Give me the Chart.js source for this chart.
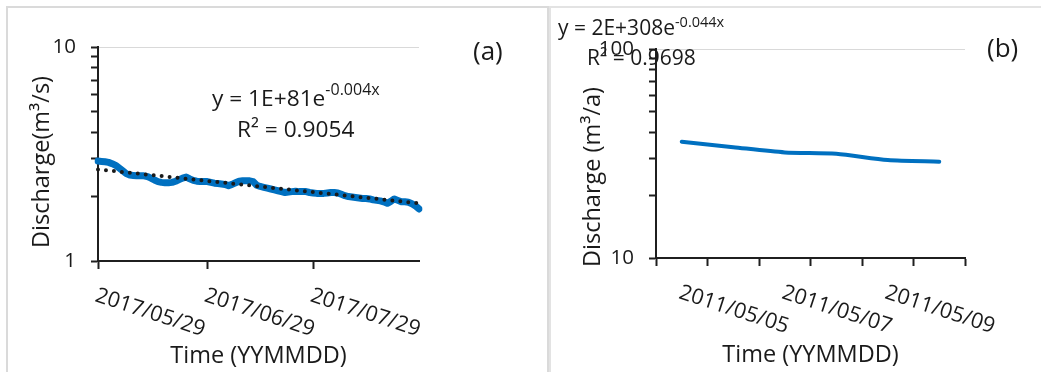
<!DOCTYPE html>
<html>
<head>
<meta charset="utf-8">
<script src="https://cdn.jsdelivr.net/npm/chart.js@4.4.1/dist/chart.umd.min.js"></script>
<style>
  html, body { margin: 0; padding: 0; background: #fff; }
  body { width: 1041px; height: 372px; position: relative; overflow: hidden; }
  .frame { position: absolute; box-sizing: border-box; border-style: solid; border-color: #dadada; }
  canvas { position: absolute; top: 0; }
</style>
</head>
<body>
<div class="frame" style="left:6px;top:6px;width:543px;height:380px;border-width:2px 2px 0 2px;"></div>
<div class="frame" style="left:549px;top:6px;width:500px;height:380px;border-width:2px 0 0 2px;border-color:#e3e3e3;"></div>
<canvas id="chartA" width="548" height="372" style="left:0"></canvas>
<canvas id="chartB" width="492" height="372" style="left:549px"></canvas>
<script>
// ---- panel (a): daily discharge, 2017/05/29 .. 2017/08/28
const startA = [2017, 5, 29];
const dischargeA = [
  2.93, 2.92, 2.91, 2.89, 2.85, 2.80, 2.72, 2.64, 2.56, 2.52,
  2.51, 2.50, 2.50, 2.50, 2.48, 2.44, 2.39, 2.35, 2.33, 2.32,
  2.32, 2.33, 2.36, 2.40, 2.44, 2.47, 2.42, 2.38, 2.36, 2.35,
  2.35, 2.35, 2.33, 2.31, 2.30, 2.29, 2.28, 2.25, 2.28, 2.32,
  2.36, 2.37, 2.37, 2.37, 2.35, 2.26, 2.23, 2.21, 2.19, 2.17,
  2.15, 2.13, 2.11, 2.09, 2.10, 2.11, 2.12, 2.11, 2.11, 2.11,
  2.09, 2.08, 2.07, 2.07, 2.07, 2.08, 2.09, 2.09, 2.08, 2.05,
  2.02, 2.00, 1.99, 1.98, 1.97, 1.96, 1.96, 1.95, 1.93, 1.92,
  1.91, 1.89, 1.86, 1.90, 1.95, 1.92, 1.89, 1.89, 1.88, 1.85,
  1.81, 1.75
];
const trendEndsA = [2.68, 1.86];   // exponential trendline, first and last day
const tickLabelsA = ['2017/05/29', '2017/06/29', '2017/07/29'];
const yTickValuesA = [1, 2, 3, 4, 5, 6, 7, 8, 9, 10];

// ---- panel (b)
const datesB = ['2011/05/05', '2011/05/06', '2011/05/07', '2011/05/08', '2011/05/09', '2011/05/10'];
const dischargeB = [36.0, 33.9, 32.0, 31.5, 29.4, 28.9];
const tickLabelsB = ['2011/05/05', '2011/05/07', '2011/05/09'];
const yTickValuesB = [10, 20, 30, 40, 50, 60, 70, 80, 90, 100];

const BLUE = '#0070c0';
const AXIS = '#1f1f1f';
const GRID = '#d9d9d9';
const TEXT = '#1a1a1a';
const FONT = '"Open Sans", sans-serif';

// day labels for panel (a)
const daysA = [];
for (let i = 0; i < dischargeA.length; i++) {
  const d = new Date(Date.UTC(startA[0], startA[1] - 1, startA[2] + i));
  daysA.push(d.getUTCFullYear() + '/' + String(d.getUTCMonth() + 1).padStart(2, '0') + '/' + String(d.getUTCDate()).padStart(2, '0'));
}
const trendA = dischargeA.map(() => null);
trendA[0] = trendEndsA[0];
trendA[trendA.length - 1] = trendEndsA[1];

// draws rotated date labels, axis titles, equation and panel letter
const panelText = {
  id: 'panelText',
  afterDraw(chart, args, o) {
    const { ctx, chartArea: ca } = chart;
    const xs = chart.scales.x;
    ctx.save();
    ctx.fillStyle = TEXT;

    ctx.font = o.tickSize + 'px ' + FONT;
    ctx.textAlign = 'left';
    ctx.textBaseline = 'alphabetic';
    o.tickLabels.forEach(lbl => {
      const px = xs.getPixelForValue(chart.data.labels.indexOf(lbl));
      ctx.save();
      ctx.translate(px - 4, xs.top + 40);
      ctx.rotate(18 * Math.PI / 180);
      ctx.fillText(lbl, 0, 0);
      ctx.restore();
    });

    ctx.textAlign = 'center';
    ctx.textBaseline = 'middle';
    ctx.font = o.titleSize + 'px ' + FONT;
    ctx.fillText(o.xTitle, (ca.left + ca.right) / 2, o.xTitleY);
    ctx.save();
    ctx.translate(o.yTitlePos[0], o.yTitlePos[1]);
    ctx.rotate(-Math.PI / 2);
    ctx.fillText(o.yTitle, 0, 0);
    ctx.restore();

    ctx.textAlign = 'left';
    ctx.textBaseline = 'alphabetic';
    const eq = o.eq;
    ctx.font = eq.size + 'px ' + FONT;
    ctx.fillText(eq.main, eq.x, eq.y);
    const w = ctx.measureText(eq.main).width;
    ctx.font = eq.supSize + 'px ' + FONT;
    ctx.fillText(eq.sup, eq.x + w, eq.supY);
    ctx.font = eq.size + 'px ' + FONT;
    ctx.fillText(eq.r2, eq.r2x, eq.r2y);

    ctx.font = o.letterSize + 'px ' + FONT;
    ctx.fillText(o.letter, o.letterPos[0], o.letterPos[1]);
    ctx.restore();
  }
};

const yTicks = (lo, hi) => ({
  autoSkip: false,
  padding: 15,
  color: TEXT,
  font: { family: FONT, size: 20.5 },
  callback: v => (v === lo || v === hi) ? String(v) : ''
});

new Chart(document.getElementById('chartA'), {
  type: 'line',
  data: {
    labels: daysA,
    datasets: [
      { data: trendA, borderColor: '#1a1a1a', borderWidth: 4, borderDash: [0, 8], borderCapStyle: 'round', pointRadius: 0, spanGaps: true },
      { data: dischargeA, borderColor: BLUE, borderWidth: 7, borderJoinStyle: 'round', borderCapStyle: 'round', pointRadius: 0, tension: 0 }
    ]
  },
  options: {
    responsive: false, animation: false, events: [],
    layout: { padding: { left: 0, top: 47, right: 129, bottom: 0 } },
    plugins: {
      legend: { display: false }, tooltip: { enabled: false },
      panelText: {
        tickLabels: tickLabelsA, tickSize: 21.5,
        xTitle: 'Time (YYMMDD)', xTitleY: 356,
        yTitle: 'Discharge(m³/s)', yTitlePos: [42, 162], titleSize: 23.5,
        eq: { main: 'y = 1E+81e', sup: '-0.004x', x: 212, y: 106, size: 22.7, supSize: 16, supY: 95, r2: 'R² = 0.9054', r2x: 237, r2y: 137 },
        letter: '(a)', letterPos: [473, 60], letterSize: 26
      }
    },
    scales: {
      x: {
        type: 'category', offset: false,
        afterBuildTicks: s => { s.ticks = s.ticks.filter(t => tickLabelsA.includes(daysA[t.value])); },
        afterFit: s => { s.height = 111; },
        ticks: { display: false },
        grid: { drawOnChartArea: false, color: 'transparent', tickColor: AXIS, tickLength: 8, tickWidth: 2 },
        border: { color: AXIS, width: 2 }
      },
      y: {
        type: 'logarithmic', min: 1, max: 10,
        afterBuildTicks: s => { s.ticks = yTickValuesA.map(v => ({ value: v, major: v === 1 || v === 10 })); },
        afterFit: s => { s.width = 98; },
        ticks: yTicks(1, 10),
        grid: { color: c => (c.tick && c.tick.value === 10) ? GRID : 'transparent', tickColor: AXIS, tickLength: 7, tickWidth: 2 },
        border: { color: AXIS, width: 2 }
      }
    }
  },
  plugins: [panelText]
});

new Chart(document.getElementById('chartB'), {
  type: 'line',
  data: {
    labels: datesB,
    datasets: [
      { data: dischargeB, borderColor: BLUE, borderWidth: 4, borderCapStyle: 'round', pointRadius: 0, tension: 0.25 }
    ]
  },
  options: {
    responsive: false, animation: false, events: [],
    layout: { padding: { left: 0, top: 49, right: 76, bottom: 0 } },
    plugins: {
      legend: { display: false }, tooltip: { enabled: false },
      panelText: {
        tickLabels: tickLabelsB, tickSize: 21.5,
        xTitle: 'Time (YYMMDD)', xTitleY: 355,
        yTitle: 'Discharge (m³/a)', yTitlePos: [44, 177], titleSize: 23.5,
        eq: { main: 'y = 2E+308e', sup: '-0.044x', x: 9, y: 35, size: 21, supSize: 14.5, supY: 27, r2: 'R² = 0.9698', r2x: 38, r2y: 65 },
        letter: '(b)', letterPos: [438, 57], letterSize: 26
      }
    },
    scales: {
      x: {
        type: 'category', offset: true,
        afterFit: s => { s.height = 114; },
        ticks: { display: false },
        grid: { offset: true, drawOnChartArea: false, color: 'transparent', tickColor: AXIS, tickLength: 8, tickWidth: 2 },
        border: { color: AXIS, width: 2 }
      },
      y: {
        type: 'logarithmic', min: 10, max: 100,
        afterBuildTicks: s => { s.ticks = yTickValuesB.map(v => ({ value: v, major: v === 10 || v === 100 })); },
        afterFit: s => { s.width = 107; },
        ticks: yTicks(10, 100),
        grid: { color: c => (c.tick && c.tick.value === 100) ? GRID : 'transparent', tickColor: AXIS, tickLength: 7, tickWidth: 2 },
        border: { color: AXIS, width: 2 }
      }
    }
  },
  plugins: [panelText]
});
</script>
</body>
</html>
